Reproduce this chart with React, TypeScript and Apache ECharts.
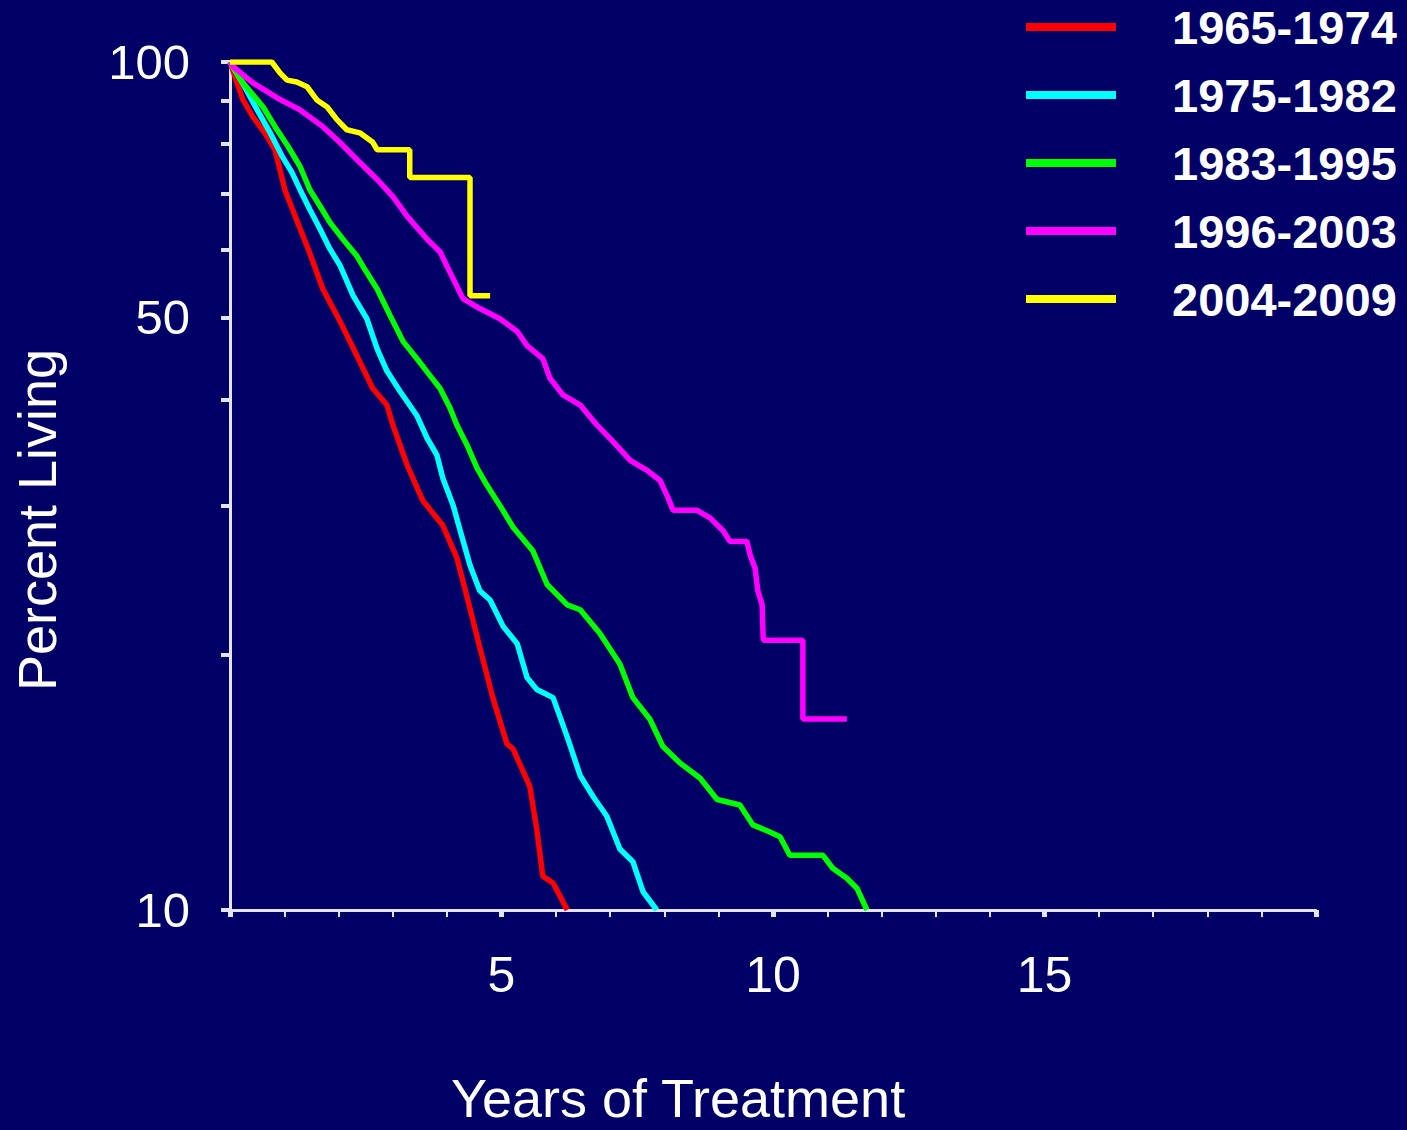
import React, { useEffect, useRef } from "react";
import * as echarts from "echarts";

const seriesNames = ["1965-1974", "1975-1982", "1983-1995", "1996-2003", "2004-2009"];
const seriesColors = ["#ff0000", "#00ffff", "#00ff00", "#ff00ff", "#ffff00"];

const yTickValues = [10, 20, 30, 40, 50, 60, 70, 80, 90, 100];
const yLabelValues = [10, 50, 100];
const xLabelValues = [5, 10, 15];

// 1965-1974
const redYears = [0, 0.13, 0.24, 0.42, 0.64, 0.83, 1.01, 1.2, 1.44, 1.71, 2.03, 2.34, 2.63, 2.89, 3.0, 3.26, 3.55, 3.92, 4.18, 4.38, 4.6, 4.84, 5.1, 5.21, 5.52, 5.65, 5.76, 5.95, 6.08, 6.21];
const redPct = [100, 94.5, 90.2, 86.2, 82.5, 78.8, 70.7, 65.8, 60.2, 54.0, 49.4, 45.0, 41.2, 39.4, 37.3, 33.5, 30.4, 28.4, 26.0, 23.2, 20.4, 17.8, 15.7, 15.5, 14.0, 12.45, 10.96, 10.76, 10.38, 10.0];

// 1975-1982
const cyanYears = [0, 0.22, 0.5, 0.74, 0.96, 1.14, 1.29, 1.47, 1.66, 1.84, 2.03, 2.27, 2.52, 2.71, 2.89, 3.13, 3.44, 3.63, 3.81, 3.92, 4.11, 4.24, 4.42, 4.6, 4.79, 5.03, 5.29, 5.47, 5.65, 5.95, 6.21, 6.45, 6.69, 6.94, 7.18, 7.42, 7.61, 7.86];
const cyanPct = [100, 94.7, 87.8, 82.5, 77.4, 74.1, 70.7, 67.0, 63.5, 60.2, 57.5, 53.0, 49.8, 45.9, 43.2, 40.9, 38.3, 36.0, 34.4, 32.3, 30.0, 28.0, 25.5, 23.8, 23.2, 21.6, 20.6, 18.8, 18.2, 17.8, 16.0, 14.4, 13.6, 12.9, 11.8, 11.4, 10.5, 10.0];

// 1983-1995
const greenYears = [0, 0.24, 0.61, 0.83, 1.07, 1.29, 1.47, 1.66, 1.84, 2.08, 2.34, 2.45, 2.71, 2.95, 3.19, 3.44, 3.68, 3.87, 4.05, 4.18, 4.36, 4.55, 4.73, 4.97, 5.21, 5.58, 5.84, 6.21, 6.45, 6.81, 7.18, 7.42, 7.73, 7.97, 8.29, 8.66, 8.97, 9.39, 9.63, 9.89, 10.13, 10.31, 10.63, 10.92, 11.1, 11.36, 11.55, 11.73];
const greenPct = [100, 94.5, 88.5, 83.9, 79.5, 75.3, 70.7, 67.6, 64.7, 61.8, 59.0, 57.4, 54.0, 50.2, 46.8, 44.7, 42.7, 41.2, 39.1, 37.3, 35.4, 33.2, 31.7, 30.0, 28.3, 26.5, 24.2, 22.9, 22.6, 21.2, 19.5, 17.8, 16.8, 15.6, 14.9, 14.3, 13.5, 13.3, 12.6, 12.4, 12.2, 11.6, 11.6, 11.6, 11.2, 10.9, 10.6, 10.0];

// 1996-2003
const magentaYears = [0, 0.06, 0.42, 0.87, 1.29, 1.71, 2.03, 2.34, 2.71, 3.0, 3.26, 3.63, 3.87, 4.11, 4.29, 4.6, 4.97, 5.29, 5.47, 5.76, 5.89, 6.13, 6.45, 6.76, 7.05, 7.37, 7.68, 7.92, 8.07, 8.16, 8.6, 8.84, 9.08, 9.21, 9.52, 9.58, 9.67, 9.72, 9.8, 9.82, 10.55, 10.55, 11.36];
const magentaPct = [100, 98.7, 94.5, 90.7, 87.8, 83.9, 80.3, 76.7, 72.7, 69.4, 65.8, 61.8, 59.7, 55.5, 52.6, 51.2, 49.8, 48.1, 46.3, 44.7, 42.4, 40.5, 39.4, 37.3, 35.7, 33.9, 33.0, 32.1, 30.6, 29.6, 29.6, 29.0, 28.0, 27.2, 27.2, 26.2, 25.3, 23.8, 22.9, 20.8, 20.8, 16.8, 16.8];

// 2004-2009
const yellowYears = [0, 0.77, 0.92, 1.05, 1.23, 1.42, 1.6, 1.79, 1.97, 2.15, 2.39, 2.63, 2.71, 3.31, 3.31, 4.42, 4.42, 4.79];
const yellowPct = [100, 100, 97.1, 95.2, 94.7, 93.5, 90.2, 88.5, 85.5, 83.2, 82.5, 80.4, 78.8, 78.8, 73.1, 73.1, 53.0, 53.0];

const seriesYears = [redYears, cyanYears, greenYears, magentaYears, yellowYears];
const seriesPct = [redPct, cyanPct, greenPct, magentaPct, yellowPct];

const FONT = '"Liberation Sans", Arial, Helvetica, sans-serif';
const AXIS_COLOR = "#e4e4ee";

export default function App() {
  const ref = useRef<HTMLDivElement>(null);
  useEffect(() => {
    document.body.style.margin = "0";
    document.body.style.background = "#000066";
    if (!ref.current) return;
    const chart = echarts.init(ref.current, undefined, { renderer: "svg" });
    const series = seriesNames.map((name, i) => ({
      name,
      type: "line",
      data: seriesYears[i].map((x, j) => [x, seriesPct[i][j]]),
      showSymbol: false,
      symbol: "none",
      lineStyle: { color: seriesColors[i], width: 5.5 },
      itemStyle: { color: seriesColors[i] },
      z: 2 + i,
    }));
    chart.setOption({
      animation: false,
      backgroundColor: "#000066",
      textStyle: { fontFamily: FONT },
      grid: { left: 230, right: 91, top: 62, bottom: 216 },
      legend: {
        orient: "vertical",
        left: 1026,
        top: 3,
        padding: 0,
        icon: "rect",
        itemWidth: 90,
        itemHeight: 8,
        itemGap: 20,
        selectedMode: false,
        data: seriesNames,
        textStyle: {
          color: "#ffffff",
          fontSize: 47,
          fontWeight: "bold",
          fontFamily: FONT,
          lineHeight: 48,
          padding: [0, 0, 0, 51],
        },
      },
      xAxis: {
        type: "value",
        min: 0,
        max: 20,
        interval: 5,
        name: "Years of Treatment",
        nameLocation: "middle",
        nameGap: 161,
        nameTextStyle: { color: "#ffffff", fontSize: 54, fontFamily: FONT, padding: [0, 190, 0, 0] },
        axisLine: { show: true, onZero: false, lineStyle: { color: AXIS_COLOR, width: 3 } },
        axisTick: { show: true, length: 7, lineStyle: { color: AXIS_COLOR, width: 5 } },
        minorTick: { show: true, splitNumber: 5, length: 7, lineStyle: { color: AXIS_COLOR, width: 2 } },
        axisLabel: { customValues: xLabelValues, color: "#ffffff", fontSize: 50, margin: 40, fontFamily: FONT },
        splitLine: { show: false },
        minorSplitLine: { show: false },
      },
      yAxis: {
        type: "log",
        logBase: 10,
        min: 10,
        max: 100,
        name: "Percent Living",
        nameLocation: "middle",
        nameGap: 166,
        nameTextStyle: { color: "#ffffff", fontSize: 54, fontFamily: FONT, padding: [0, 68, 0, 0] },
        axisLine: { show: true, lineStyle: { color: AXIS_COLOR, width: 3 } },
        axisTick: { show: true, customValues: yTickValues, length: 9, lineStyle: { color: AXIS_COLOR, width: 4 } },
        axisLabel: { customValues: yLabelValues, color: "#ffffff", fontSize: 49, margin: 40, fontFamily: FONT },
        splitLine: { show: false },
      },
      series,
    });
    return () => chart.dispose();
  }, []);
  return (
    <div
      ref={ref}
      style={{ position: "absolute", left: 0, top: 0, width: 1407, height: 1130, background: "#000066" }}
    />
  );
}
